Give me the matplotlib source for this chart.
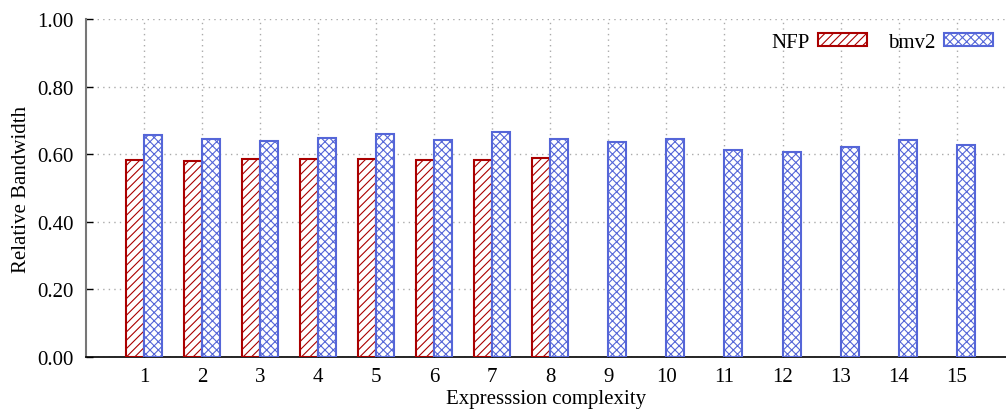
import matplotlib
matplotlib.use("Agg")
import matplotlib.pyplot as plt
import numpy as np

# Relative bandwidth per expression complexity level
complexity = list(range(1, 16))
nfp = [0.584, 0.579, 0.585, 0.585, 0.587, 0.584, 0.584, 0.588]
bmv2 = [0.657, 0.645, 0.639, 0.649, 0.659, 0.642, 0.665, 0.645,
        0.636, 0.645, 0.613, 0.607, 0.621, 0.642, 0.628]
yticks = [0.0, 0.2, 0.4, 0.6, 0.8, 1.0]

plt.rcParams['font.family'] = ['Liberation Serif', 'DejaVu Serif']
plt.rcParams['font.size'] = 15
plt.rcParams['hatch.linewidth'] = 0.8

red = '#aa0000'
blue = '#5566d8'

fig = plt.figure(figsize=(10.06, 4.10), dpi=100)
ax = fig.add_axes([0.0855, 0.1268, 0.9145, 0.8244])

w = 0.31
x_nfp = np.arange(1, len(nfp) + 1)
x_bmv = np.array(complexity)

ax.bar(x_nfp - w / 2, nfp, w, facecolor='white', edgecolor=red,
       hatch='////', linewidth=1.5, label='NFP', zorder=3)
ax.bar(x_bmv + w / 2, bmv2, w, facecolor='white', edgecolor=blue,
       hatch='xxxx', linewidth=1.5, label='bmv2', zorder=3)

ax.set_xlim(0, 15.85)
ax.set_ylim(0, 1.0)
ax.set_xticks(complexity)
ax.set_xticklabels([str(c) for c in complexity])
ax.set_yticks(yticks)
ax.set_yticklabels([f"{t:.2f}" for t in yticks])
ax.tick_params(direction='in', length=5, width=1, pad=9)
ax.tick_params(axis='x', pad=7)

ax.grid(True, linestyle=(0, (1, 3)), color='#aaaaaa', linewidth=1, zorder=0)
ax.set_axisbelow(True)
for s in ('top', 'right'):
    ax.spines[s].set_visible(False)
ax.spines['left'].set_color('#777777')
ax.spines['left'].set_linewidth(1.5)
ax.spines['bottom'].set_color('black')
ax.spines['bottom'].set_linewidth(1.2)

ax.set_xlabel('Expresssion complexity', labelpad=2)
ax.set_ylabel('Relative Bandwidth', labelpad=4)

leg = ax.legend(loc='upper right', bbox_to_anchor=(0.999, 0.995), ncol=2,
                frameon=False, markerfirst=False, handlelength=2.35,
                handleheight=0.58, handletextpad=0.4, columnspacing=1.0,
                borderaxespad=0.2)

fig.savefig('out.png', dpi=100)
